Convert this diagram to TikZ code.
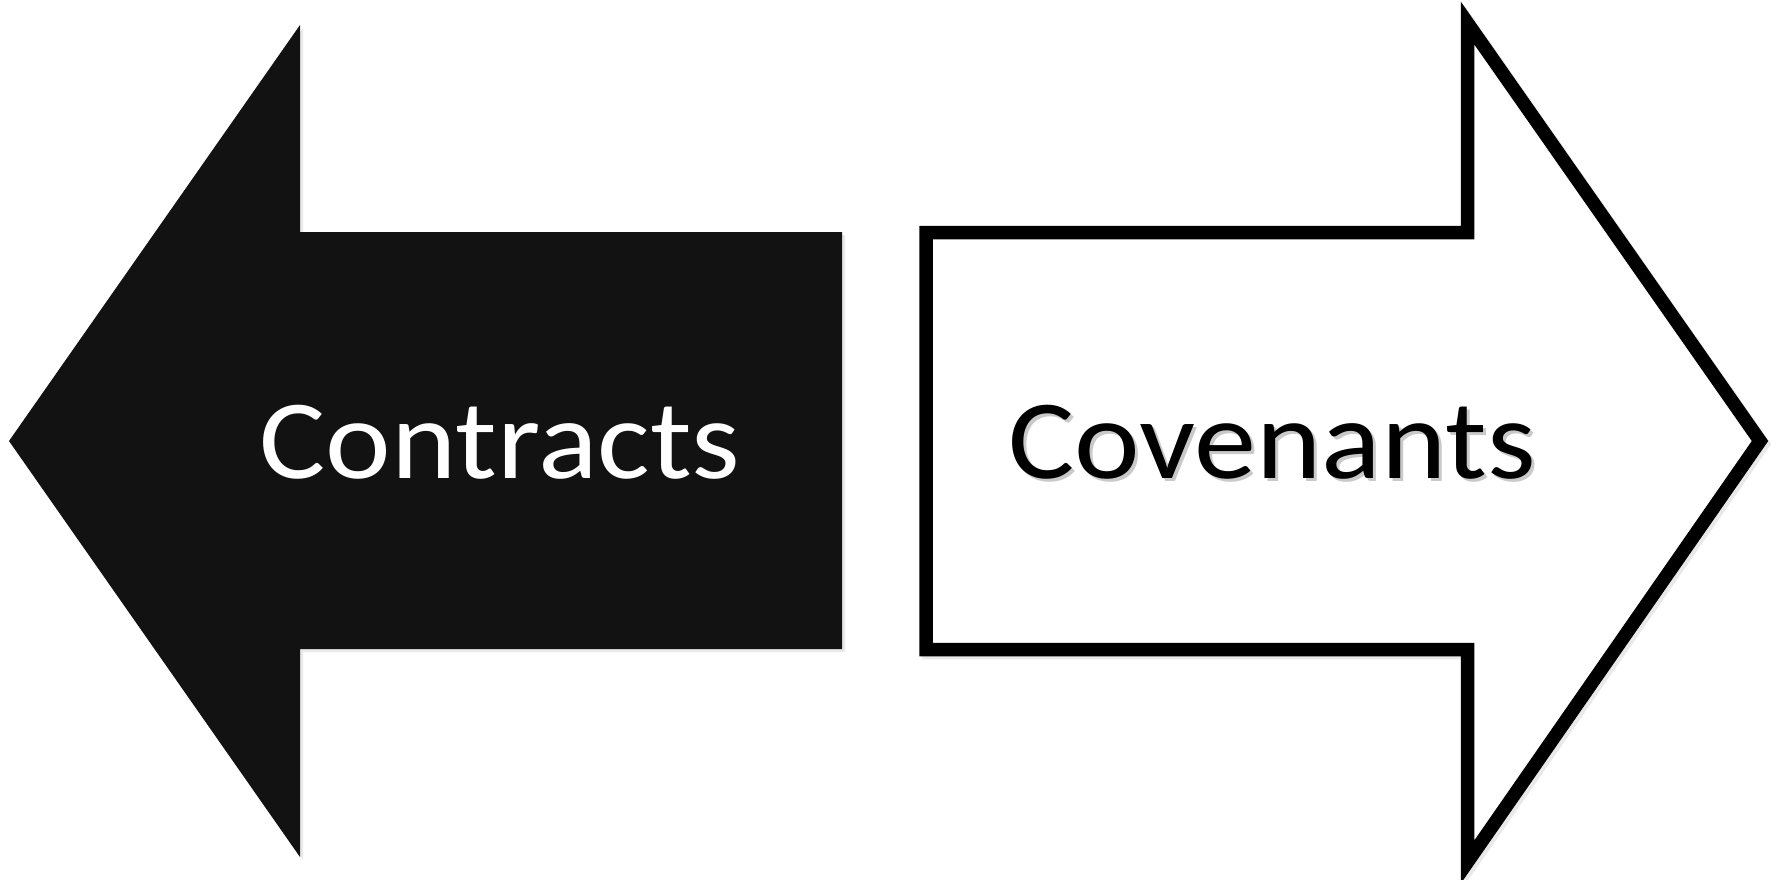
\documentclass[tikz,border=0pt]{standalone}
\usepackage{fontspec}
\usepackage{graphicx}
\setmainfont{Carlito}
\definecolor{darkfill}{HTML}{121212}
\newcommand{\wide}[1]{\scalebox{1.1}[1]{#1}}
\tikzset{
  lbl/.style={anchor=base, inner sep=0pt, font=\fontsize{113}{120}\selectfont},
  shadowtxt/.style={lbl, text=black!35, opacity=0.6},
  shapeshadow/.style={fill=black!25, opacity=0.35}
}
\begin{document}
\begin{tikzpicture}[x=1pt,y=-1pt]
\useasboundingbox (0,0) rectangle (1779,879);
% shadows of shapes
\fill[shapeshadow] (303,28) -- (303,235) -- (845,235) -- (845,652) -- (303,652) -- (303,860) -- (12,444) -- cycle;
% left filled arrow
\fill[darkfill] (300,25) -- (300,232) -- (842,232) -- (842,649) -- (300,649) -- (300,857) -- (9,441) -- cycle;
% right outlined arrow
\draw[line width=13.5pt, black!25, opacity=0.35, miter limit=10] (929,235.5) -- (1470.5,235.5) -- (1470.5,26) -- (1763,444) -- (1470.5,865) -- (1470.5,652.5) -- (929,652.5) -- cycle;
\draw[line width=13.5pt, black, fill=white, miter limit=10] (926,232.5) -- (1467.5,232.5) -- (1467.5,23) -- (1760,441) -- (1467.5,862) -- (1467.5,649.5) -- (926,649.5) -- cycle;
% labels
\node[shadowtxt] (covsh) at (1275,481) {\wide{Covenants}};
\node[lbl, text=white] (contracts) at (500,478) {\wide{Contracts}};
\node[lbl, text=black] (covenants) at (1272,478) {\wide{Covenants}};
\end{tikzpicture}
\end{document}
